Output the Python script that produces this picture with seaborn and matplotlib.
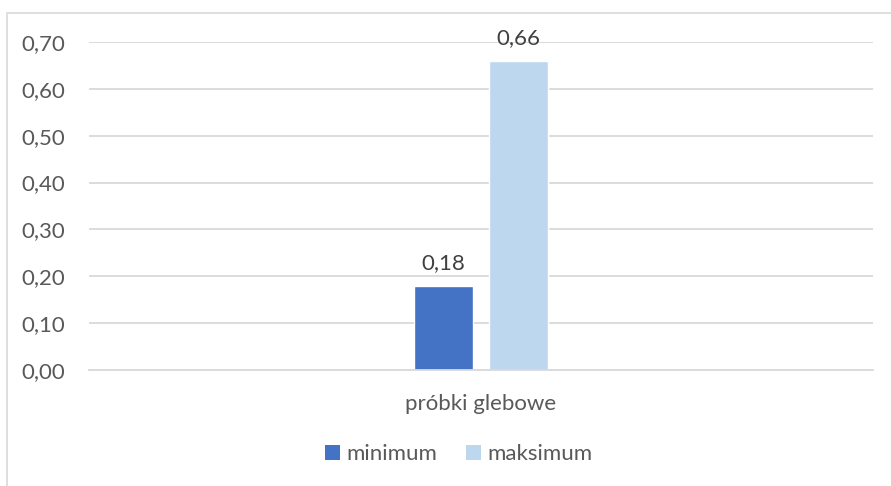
import matplotlib
matplotlib.use("Agg")
import matplotlib.pyplot as plt
from matplotlib.ticker import FuncFormatter, MultipleLocator
from matplotlib.patches import Patch, Rectangle
import pandas as pd
import seaborn as sns

# Data
categories = ["próbki glebowe"]
series = ["minimum", "maksimum"]
values = [0.18, 0.66]
colors = ["#4472C4", "#BDD7EE"]

df = pd.DataFrame({
    "kategoria": categories * len(series),
    "seria": series,
    "wartosc": values,
})

sns.set_theme(style="white")
plt.rcParams["font.family"] = ["Lato", "DejaVu Sans"]
text_color = "#595959"
grid_color = "#D9D9D9"
fs = 16

fig = plt.figure(figsize=(8.91, 4.86), dpi=100)
ax = fig.add_axes([89 / 891, 1 - 370 / 486, (873 - 89) / 891, (370 - 42) / 486])

sns.barplot(data=df, x="kategoria", y="wartosc", hue="seria", palette=colors,
            width=0.191, gap=0.213, ax=ax, legend=False, saturation=1)

ax.set_xlim(-0.5, 0.5)
ax.set_ylim(0, 0.70)
ax.yaxis.set_major_locator(MultipleLocator(0.10))
ax.yaxis.set_major_formatter(FuncFormatter(lambda v, _: f"{v:.2f}".replace(".", ",")))
ax.grid(axis="y", color=grid_color, linewidth=1.3)
ax.set_axisbelow(True)
for s in ["top", "right", "left"]:
    ax.spines[s].set_visible(False)
ax.spines["bottom"].set_color(grid_color)
ax.spines["bottom"].set_linewidth(1.3)
ax.set_xlabel("")
ax.set_ylabel("")
ax.tick_params(axis="y", length=0, pad=17, labelsize=fs, labelcolor=text_color)
ax.tick_params(axis="x", length=0, pad=17, labelsize=fs, labelcolor=text_color)

# Value labels above bars
for container in ax.containers:
    ax.bar_label(container, labels=[f"{v:.2f}".replace(".", ",") for v in container.datavalues],
                 padding=9, fontsize=fs, color="#404040")

# Legend below the plot
handles = [Patch(facecolor=c, edgecolor="none", label=s) for s, c in zip(series, colors)]
fig.legend(handles=handles, loc="center", bbox_to_anchor=(459 / 891, 1 - 454 / 486),
           ncol=2, frameon=False, fontsize=fs, labelcolor=text_color,
           handlelength=0.65, handleheight=0.65, handletextpad=0.3, columnspacing=1.3)

# Chart area border
fig.patches.append(Rectangle((6.5 / 891, -0.1), 1.2, 1 - 13 / 486 + 0.1,
                             transform=fig.transFigure, fill=False,
                             edgecolor=grid_color, linewidth=1.2))

fig.savefig("out.png", dpi=100)
